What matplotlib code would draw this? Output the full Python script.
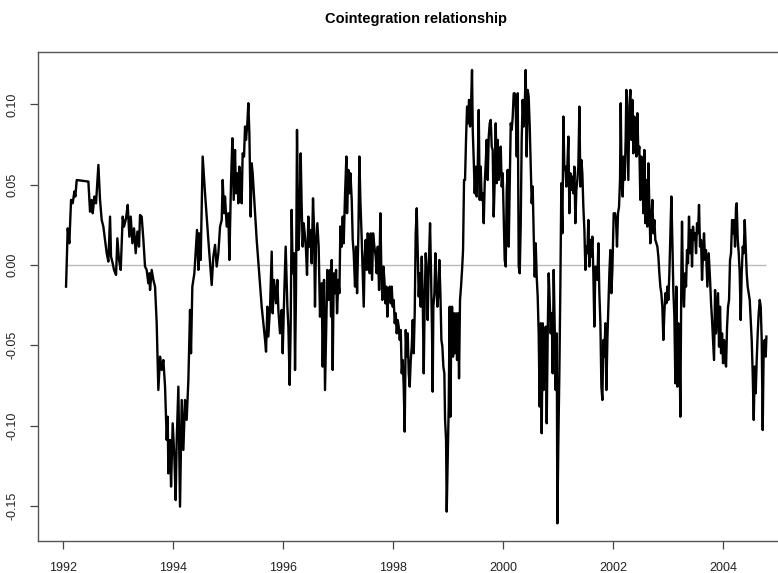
import matplotlib
matplotlib.use("Agg")
import matplotlib.pyplot as plt

plt.rcParams['font.family'] = ['Liberation Sans', 'DejaVu Sans']
plt.rcParams['axes.unicode_minus'] = False

# decimal year, value of the cointegration residual
dates = [
    1992.055, 1992.085, 1992.115, 1992.146, 1992.176, 1992.206, 1992.224, 1992.249, 1992.461, 1992.491,
    1992.521, 1992.540, 1992.570, 1992.600, 1992.643, 1992.673, 1992.703, 1992.733, 1992.764, 1992.794,
    1992.824, 1992.855, 1992.873, 1992.903, 1992.927, 1992.964, 1992.988, 1993.018, 1993.049, 1993.085,
    1993.109, 1993.146, 1993.176, 1993.206, 1993.231, 1993.261, 1993.291, 1993.321, 1993.352, 1993.382,
    1993.400, 1993.430, 1993.461, 1993.491, 1993.521, 1993.551, 1993.570, 1993.582, 1993.612, 1993.642,
    1993.673, 1993.703, 1993.733, 1993.764, 1993.794, 1993.824, 1993.855, 1993.885, 1993.903, 1993.915,
    1993.945, 1993.964, 1993.994, 1994.024, 1994.048, 1994.067, 1994.097, 1994.127, 1994.158, 1994.188,
    1994.218, 1994.248, 1994.279, 1994.309, 1994.327, 1994.351, 1994.388, 1994.418, 1994.436, 1994.461,
    1994.473, 1994.503, 1994.539, 1994.582, 1994.642, 1994.703, 1994.733, 1994.764, 1994.794, 1994.824,
    1994.855, 1994.885, 1994.903, 1994.927, 1994.945, 1994.976, 1995.006, 1995.024, 1995.054, 1995.079,
    1995.103, 1995.127, 1995.145, 1995.169, 1995.188, 1995.206, 1995.230, 1995.248, 1995.266, 1995.291,
    1995.309, 1995.327, 1995.351, 1995.369, 1995.388, 1995.412, 1995.430, 1995.448, 1995.521, 1995.612,
    1995.673, 1995.691, 1995.715, 1995.733, 1995.764, 1995.794, 1995.812, 1995.836, 1995.873, 1995.897,
    1995.915, 1995.945, 1995.976, 1995.994, 1996.024, 1996.048, 1996.079, 1996.097, 1996.121, 1996.139,
    1996.157, 1996.175, 1996.200, 1996.218, 1996.236, 1996.254, 1996.279, 1996.297, 1996.321, 1996.339,
    1996.357, 1996.375, 1996.394, 1996.418, 1996.436, 1996.460, 1996.478, 1996.497, 1996.521, 1996.545,
    1996.563, 1996.581, 1996.600, 1996.624, 1996.648, 1996.660, 1996.672, 1996.703, 1996.721, 1996.745,
    1996.763, 1996.781, 1996.806, 1996.830, 1996.855, 1996.873, 1996.885, 1996.903, 1996.922, 1996.946,
    1996.964, 1996.982, 1997.006, 1997.025, 1997.043, 1997.067, 1997.085, 1997.103, 1997.128, 1997.152,
    1997.164, 1997.188, 1997.206, 1997.225, 1997.249, 1997.267, 1997.285, 1997.309, 1997.328, 1997.346,
    1997.370, 1997.388, 1997.406, 1997.431, 1997.449, 1997.467, 1997.485, 1997.503, 1997.522, 1997.540,
    1997.558, 1997.576, 1997.594, 1997.619, 1997.637, 1997.661, 1997.685, 1997.703, 1997.722, 1997.746,
    1997.770, 1997.788, 1997.806, 1997.825, 1997.843, 1997.861, 1997.879, 1997.897, 1997.915, 1997.940,
    1997.958, 1997.976, 1997.994, 1998.012, 1998.031, 1998.049, 1998.067, 1998.085, 1998.103, 1998.122,
    1998.140, 1998.158, 1998.176, 1998.194, 1998.212, 1998.231, 1998.249, 1998.267, 1998.285, 1998.303,
    1998.322, 1998.340, 1998.358, 1998.376, 1998.394, 1998.412, 1998.431, 1998.449, 1998.467, 1998.485,
    1998.503, 1998.522, 1998.540, 1998.558, 1998.576, 1998.594, 1998.612, 1998.630, 1998.649, 1998.673,
    1998.691, 1998.709, 1998.721, 1998.733, 1998.752, 1998.770, 1998.788, 1998.806, 1998.824, 1998.842,
    1998.861, 1998.879, 1998.897, 1998.915, 1998.933, 1998.946, 1998.964, 1998.976, 1998.994, 1999.012,
    1999.030, 1999.043, 1999.055, 1999.073, 1999.091, 1999.109, 1999.127, 1999.146, 1999.164, 1999.182,
    1999.200, 1999.218, 1999.236, 1999.255, 1999.273, 1999.291, 1999.309, 1999.327, 1999.346, 1999.364,
    1999.382, 1999.400, 1999.418, 1999.436, 1999.449, 1999.467, 1999.485, 1999.503, 1999.521, 1999.540,
    1999.558, 1999.576, 1999.594, 1999.612, 1999.630, 1999.649, 1999.667, 1999.685, 1999.703, 1999.721,
    1999.740, 1999.758, 1999.776, 1999.794, 1999.812, 1999.830, 1999.849, 1999.867, 1999.885, 1999.903,
    1999.921, 1999.940, 1999.958, 1999.976, 1999.994, 2000.012, 2000.030, 2000.049, 2000.067, 2000.085,
    2000.103, 2000.121, 2000.140, 2000.158, 2000.176, 2000.194, 2000.212, 2000.230, 2000.249, 2000.267,
    2000.285, 2000.303, 2000.321, 2000.339, 2000.357, 2000.376, 2000.394, 2000.412, 2000.430, 2000.448,
    2000.466, 2000.485, 2000.503, 2000.521, 2000.539, 2000.557, 2000.576, 2000.594, 2000.612, 2000.630,
    2000.648, 2000.666, 2000.685, 2000.703, 2000.721, 2000.739, 2000.757, 2000.776, 2000.794, 2000.812,
    2000.830, 2000.848, 2000.866, 2000.885, 2000.903, 2000.921, 2000.939, 2000.957, 2000.976, 2000.988,
    2001.006, 2001.024, 2001.042, 2001.060, 2001.079, 2001.097, 2001.115, 2001.133, 2001.151, 2001.169,
    2001.188, 2001.206, 2001.224, 2001.242, 2001.260, 2001.279, 2001.297, 2001.315, 2001.333, 2001.351,
    2001.369, 2001.388, 2001.406, 2001.424, 2001.442, 2001.460, 2001.479, 2001.497, 2001.515, 2001.533,
    2001.551, 2001.569, 2001.588, 2001.606, 2001.624, 2001.642, 2001.660, 2001.679, 2001.697, 2001.715,
    2001.733, 2001.751, 2001.770, 2001.788, 2001.806, 2001.824, 2001.842, 2001.860, 2001.879, 2001.897,
    2001.915, 2001.933, 2001.951, 2001.970, 2001.988, 2002.012, 2002.036, 2002.054, 2002.072, 2002.090,
    2002.109, 2002.127, 2002.139, 2002.157, 2002.175, 2002.193, 2002.212, 2002.230, 2002.242, 2002.260,
    2002.278, 2002.296, 2002.315, 2002.333, 2002.351, 2002.369, 2002.387, 2002.406, 2002.424, 2002.442,
    2002.460, 2002.478, 2002.496, 2002.515, 2002.533, 2002.551, 2002.569, 2002.587, 2002.606, 2002.624,
    2002.642, 2002.660, 2002.678, 2002.696, 2002.715, 2002.733, 2002.751, 2002.769, 2002.787, 2002.806,
    2002.824, 2002.842, 2002.860, 2002.878, 2002.896, 2002.915, 2002.933, 2002.951, 2002.969, 2002.987,
    2003.006, 2003.024, 2003.042, 2003.060, 2003.078, 2003.096, 2003.115, 2003.133, 2003.151, 2003.169,
    2003.187, 2003.205, 2003.224, 2003.242, 2003.254, 2003.272, 2003.290, 2003.309, 2003.327, 2003.345,
    2003.363, 2003.381, 2003.400, 2003.418, 2003.436, 2003.454, 2003.472, 2003.490, 2003.509, 2003.527,
    2003.545, 2003.563, 2003.581, 2003.600, 2003.618, 2003.636, 2003.654, 2003.672, 2003.690, 2003.715,
    2003.739, 2003.764, 2003.782, 2003.800, 2003.818, 2003.836, 2003.855, 2003.873, 2003.891, 2003.909,
    2003.927, 2003.945, 2003.964, 2003.982, 2004.000, 2004.018, 2004.036, 2004.055, 2004.073, 2004.091,
    2004.109, 2004.127, 2004.145, 2004.164, 2004.182, 2004.200, 2004.218, 2004.236, 2004.248, 2004.267,
    2004.285, 2004.303, 2004.321, 2004.339, 2004.358, 2004.376, 2004.394, 2004.412, 2004.430, 2004.448,
    2004.467, 2004.485, 2004.503, 2004.521, 2004.539, 2004.558, 2004.576, 2004.594, 2004.612, 2004.630,
    2004.648, 2004.667, 2004.685, 2004.703, 2004.721, 2004.739, 2004.758, 2004.776, 2004.788,
]

spread = [
    -0.0135, 0.0228, 0.0135, 0.0405, 0.0384, 0.0457, 0.0426, 0.0529, 0.0519, 0.0332,
    0.0405, 0.0322, 0.0426, 0.0384, 0.0623, 0.0405, 0.0280, 0.0239, 0.0156, 0.0073,
    0.0021, 0.0301, 0.0052, 0.0010, -0.0031, -0.0062, 0.0166, 0.0031, -0.0031, 0.0301,
    0.0239, 0.0291, 0.0374, 0.0176, 0.0301, 0.0135, 0.0228, 0.0073, 0.0208, 0.0114,
    0.0311, 0.0301, 0.0156, -0.0010, -0.0031, -0.0114, -0.0052, -0.0156, -0.0031, -0.0093,
    -0.0135, -0.0363, -0.0779, -0.0571, -0.0654, -0.0592, -0.0758, -0.1090, -0.0945, -0.1298,
    -0.1090, -0.1380, -0.0986, -0.1194, -0.1464, -0.1090, -0.0758, -0.1505, -0.0841, -0.1152,
    -0.0841, -0.0965, -0.0716, -0.0280, -0.0550, -0.0135, -0.0052, 0.0114, 0.0218, -0.0031,
    0.0197, 0.0031, 0.0675, 0.0446, 0.0156, -0.0125, 0.0052, 0.0125, -0.0010, 0.0073,
    0.0239, 0.0280, 0.0529, 0.0322, 0.0426, 0.0239, 0.0322, 0.0031, 0.0509, 0.0789,
    0.0405, 0.0716, 0.0446, 0.0571, 0.0384, 0.0612, 0.0529, 0.0384, 0.0695, 0.0675,
    0.0862, 0.0779, 0.0882, 0.1007, 0.0820, 0.0301, 0.0633, 0.0571, 0.0156, -0.0260,
    -0.0467, -0.0540, -0.0260, -0.0446, -0.0260, 0.0083, -0.0301, -0.0093, -0.0239, -0.0093,
    -0.0280, -0.0426, -0.0280, -0.0550, -0.0156, 0.0114, -0.0260, -0.0384, -0.0747, -0.0384,
    0.0343, -0.0052, 0.0073, -0.0654, -0.0156, 0.0841, 0.0093, 0.0218, 0.0695, 0.0363,
    0.0114, 0.0260, 0.0197, 0.0093, -0.0062, 0.0301, 0.0114, 0.0218, 0.0010, 0.0415,
    0.0239, -0.0260, 0.0135, 0.0260, 0.0114, -0.0093, -0.0322, -0.0114, -0.0633, -0.0093,
    -0.0779, -0.0467, -0.0031, -0.0218, -0.0031, -0.0322, 0.0031, -0.0654, -0.0052, -0.0176,
    -0.0031, -0.0301, -0.0093, -0.0176, 0.0239, 0.0114, 0.0301, 0.0135, 0.0446, 0.0675,
    0.0322, 0.0592, 0.0446, 0.0571, 0.0405, 0.0156, 0.0073, -0.0135, 0.0114, -0.0176,
    0.0197, 0.0675, 0.0405, 0.0156, -0.0052, -0.0260, 0.0052, 0.0156, -0.0031, 0.0197,
    0.0093, -0.0052, 0.0197, -0.0093, 0.0197, 0.0114, 0.0052, -0.0052, 0.0114, -0.0156,
    0.0322, -0.0052, -0.0218, -0.0010, -0.0093, -0.0239, -0.0135, -0.0322, -0.0176, -0.0135,
    -0.0239, -0.0135, -0.0260, -0.0218, -0.0363, -0.0301, -0.0426, -0.0343, -0.0384, -0.0467,
    -0.0405, -0.0675, -0.0592, -0.0758, -0.1038, -0.0405, -0.0571, -0.0426, -0.0675, -0.0758,
    -0.0592, -0.0509, -0.0343, -0.0550, -0.0301, 0.0197, 0.0353, 0.0073, -0.0197, -0.0052,
    -0.0260, 0.0052, -0.0218, -0.0675, -0.0218, 0.0073, -0.0052, -0.0343, -0.0010, 0.0260,
    -0.0052, -0.0426, -0.0789, -0.0260, -0.0176, 0.0073, -0.0135, -0.0260, -0.0176, 0.0031,
    -0.0176, -0.0467, -0.0509, -0.0633, -0.0675, -0.0965, -0.1090, -0.1536, -0.1194, -0.0882,
    -0.0260, -0.0945, -0.0529, -0.0260, -0.0571, -0.0301, -0.0550, -0.0301, -0.0592, -0.0301,
    -0.0706, -0.0218, -0.0135, -0.0031, 0.0093, 0.0529, 0.0529, 0.0779, 0.0986, 0.0882,
    0.1028, 0.0862, 0.0986, 0.1214, 0.0841, 0.0654, 0.0446, 0.0612, 0.0426, 0.0612,
    0.0965, 0.0405, 0.0612, 0.0405, 0.0446, 0.0260, 0.0509, 0.0633, 0.0779, 0.0529,
    0.0799, 0.0882, 0.0903, 0.0737, 0.0716, 0.0301, 0.0529, 0.0882, 0.0509, 0.0779,
    0.0529, 0.0612, 0.0737, 0.0488, 0.0571, 0.0301, 0.0031, -0.0010, 0.0467, 0.0592,
    0.0114, 0.0509, 0.0882, 0.0841, 0.0924, 0.1069, 0.1069, 0.0986, 0.0675, 0.1069,
    -0.0010, -0.0052, 0.0239, 0.0779, 0.1028, 0.0862, 0.0986, 0.1214, 0.0675, 0.1090,
    0.1048, 0.0862, 0.0612, 0.0384, 0.0488, 0.0197, -0.0073, 0.0135, -0.0073, -0.0197,
    -0.0426, -0.0882, -0.0363, -0.1048, -0.0363, -0.0779, -0.0509, -0.0384, -0.0986, -0.0426,
    -0.0052, -0.0218, -0.0426, -0.0301, -0.0675, -0.0031, -0.0384, -0.0779, -0.0426, -0.1609,
    -0.1090, -0.0675, -0.0135, 0.0509, 0.0197, 0.0924, 0.0592, 0.0612, 0.0488, 0.0612,
    0.0799, 0.0322, 0.0571, 0.0467, 0.0550, 0.0446, 0.0612, 0.0260, 0.0467, 0.0529,
    0.0612, 0.0986, 0.0488, 0.0654, 0.0571, 0.0363, 0.0218, -0.0031, 0.0114, 0.0073,
    0.0280, -0.0010, 0.0156, 0.0052, 0.0176, -0.0052, -0.0384, -0.0010, -0.0052, -0.0093,
    0.0135, -0.0176, -0.0363, -0.0758, -0.0841, -0.0467, -0.0571, -0.0363, -0.0779, -0.0467,
    -0.0260, -0.0052, 0.0093, -0.0176, -0.0031, 0.0322, 0.0322, 0.0280, 0.0114, 0.0322,
    0.0363, 0.0529, 0.1007, 0.0509, 0.0426, 0.0675, 0.0529, 0.0799, 0.1090, 0.0820,
    0.0529, 0.0986, 0.1090, 0.0779, 0.1028, 0.0695, 0.0924, 0.0779, 0.0675, 0.0945,
    0.0695, 0.0737, 0.0405, 0.0675, 0.0529, 0.0322, 0.0716, 0.0260, 0.0529, 0.0239,
    0.0633, 0.0363, 0.0135, 0.0280, 0.0405, 0.0197, 0.0280, 0.0156, 0.0135, 0.0114,
    0.0052, -0.0052, -0.0135, -0.0176, -0.0260, -0.0467, -0.0301, -0.0176, -0.0239, -0.0135,
    -0.0218, -0.0052, 0.0197, 0.0426, 0.0156, -0.0156, -0.0322, -0.0737, -0.0135, -0.0758,
    -0.0363, -0.0426, -0.0945, -0.0052, 0.0270, -0.0156, -0.0260, -0.0052, -0.0135, 0.0093,
    0.0010, 0.0301, 0.0073, 0.0218, -0.0010, 0.0239, 0.0156, 0.0197, 0.0073, 0.0260,
    0.0197, 0.0374, 0.0114, 0.0156, -0.0093, 0.0073, 0.0197, 0.0031, 0.0093, -0.0135,
    0.0073, -0.0093, -0.0239, -0.0343, -0.0467, -0.0592, -0.0156, -0.0426, -0.0301, -0.0176,
    -0.0509, -0.0260, -0.0550, -0.0426, -0.0612, -0.0467, -0.0592, -0.0633, -0.0384, -0.0260,
    -0.0218, 0.0031, 0.0073, 0.0280, 0.0197, 0.0280, 0.0114, 0.0363, 0.0384, 0.0156,
    0.0073, -0.0052, -0.0343, -0.0052, 0.0114, 0.0073, 0.0280, 0.0114, -0.0052, -0.0135,
    -0.0176, -0.0218, -0.0343, -0.0467, -0.0675, -0.0965, -0.0633, -0.0799, -0.0592, -0.0426,
    -0.0301, -0.0218, -0.0260, -0.0467, -0.1028, -0.0509, -0.0467, -0.0571, -0.0446,
]

year_ticks = [1992, 1994, 1996, 1998, 2000, 2002, 2004]
value_ticks = [-0.15, -0.10, -0.05, 0.00, 0.05, 0.10]

fig = plt.figure(figsize=(7.78, 5.73), dpi=100)
ax = fig.add_axes([38 / 778, 32 / 573, 756 / 778, 489 / 573])

ax.hlines(0, dates[0], dates[-1], color='#bbbbbb', lw=1.0, zorder=1)
ax.plot(dates, spread, color='black', lw=1.7, solid_joinstyle='round', zorder=2)

ax.set_xlim(1991.545, 2005.29)
ax.set_ylim(-0.1719, 0.1326)

ax.set_xticks(year_ticks)
ax.set_xticklabels([str(y) for y in year_ticks])
ax.set_yticks(value_ticks)
ax.set_yticklabels(['%.2f' % v for v in value_ticks], rotation=90, va='center')

ax.tick_params(axis='both', direction='out', length=6, width=0.9,
               color='#444444', labelsize=9, labelcolor='#222222')
ax.tick_params(axis='x', pad=9)
ax.tick_params(axis='y', pad=8)

for side in ax.spines.values():
    side.set_color('#555555')
    side.set_linewidth(1.0)

fig.text(416 / 778, 1 - 19 / 573, 'Cointegration relationship',
         ha='center', va='center', fontsize=10.5, fontweight='bold')

fig.savefig('out.png', dpi=100)
